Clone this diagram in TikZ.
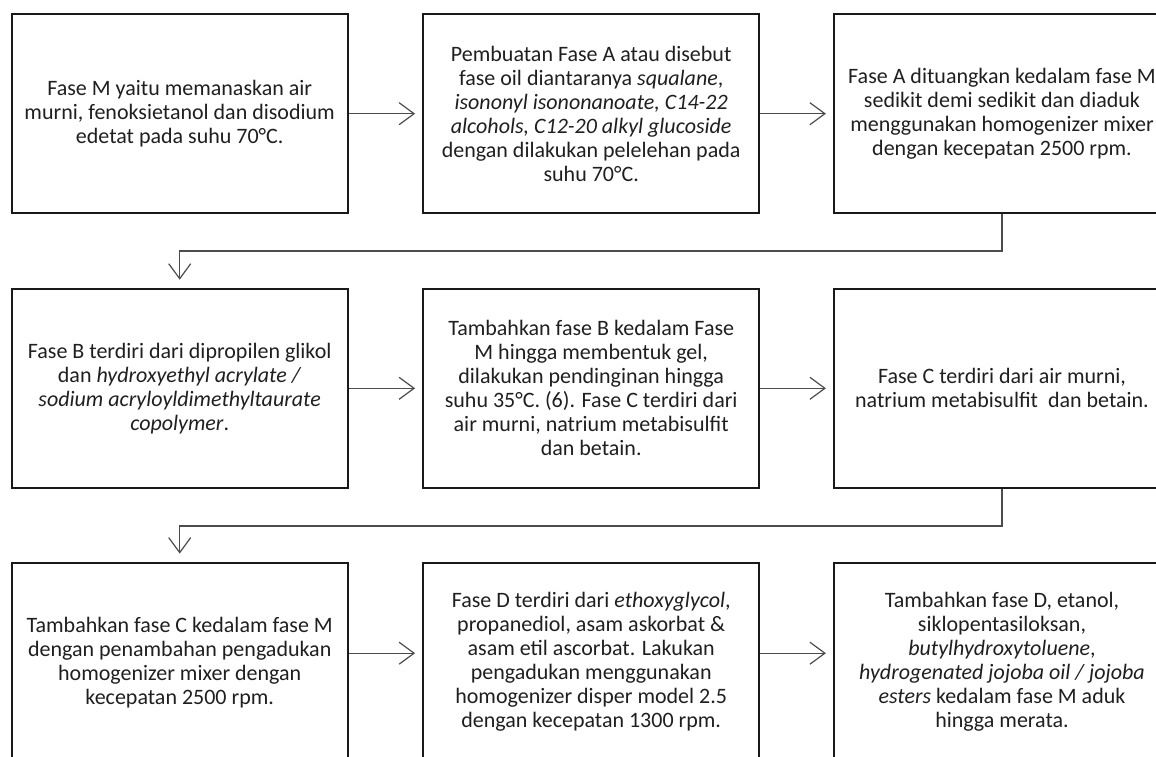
\documentclass[tikz,border=0pt]{standalone}
\usepackage{fontspec}
\setmainfont{Carlito}
\usetikzlibrary{arrows.meta}
\begin{document}
\begin{tikzpicture}[x=1pt,y=-1pt,
  box/.style={draw=black!90,line width=2.2pt,minimum width=336pt,minimum height=199pt,inner sep=0pt,
    align=center,text=black!88,font=\fontsize{22}{24}\selectfont},
  conn/.style={draw=black!70,line width=1.2pt,-{Straight Barb[length=15pt,width=22pt,line width=1.2pt]}}]
\useasboundingbox (0,0) rectangle (1156,756);
% row 1
\node[box] (b1) at (179.7,113.7) {Fase M yaitu memanaskan air\\murni, fenoksietanol dan disodium\\edetat pada suhu 70°C.};
\node[box] (b2) at (591.2,113.7) {Pembuatan Fase A atau disebut\\fase oil diantaranya \textit{squalane},\\\textit{isononyl isononanoate, C14-22}\\\textit{alcohols, C12-20 alkyl glucoside}\\dengan dilakukan pelelehan pada\\suhu 70°C.};
\node[box] (b3) at (1002,113.7) {Fase A dituangkan kedalam fase M\\sedikit demi sedikit dan diaduk\\menggunakan homogenizer mixer\\dengan kecepatan 2500 rpm.};
% row 2
\node[box] (b4) at (179.7,388.3) {Fase B terdiri dari dipropilen glikol\\dan \textit{hydroxyethyl acrylate /}\\\textit{sodium acryloyldimethyltaurate}\\\textit{copolymer}.};
\node[box] (b5) at (591.2,388.3) {Tambahkan fase B kedalam Fase\\M hingga membentuk gel,\\dilakukan pendinginan hingga\\suhu 35°C. (6). Fase C terdiri dari\\air murni, natrium metabisulfit\\dan betain.};
\node[box] (b6) at (1002,388.3) {Fase C terdiri dari air murni,\\natrium metabisulfit\ \ dan betain.};
% row 3
\node[box] (b7) at (179.7,662.2) {Tambahkan fase C kedalam fase M\\dengan penambahan pengadukan\\homogenizer mixer dengan\\kecepatan 2500 rpm.};
\node[box] (b8) at (591.2,662.2) {Fase D terdiri dari \textit{ethoxyglycol},\\propanediol, asam askorbat \&\\asam etil ascorbat. Lakukan\\pengadukan menggunakan\\homogenizer disper model 2.5\\dengan kecepatan 1300 rpm.};
\node[box] (b9) at (1002,662.2) {Tambahkan fase D, etanol,\\siklopentasiloksan,\\\textit{butylhydroxytoluene},\\\textit{hydrogenated jojoba oil / jojoba}\\\textit{esters} kedalam fase M aduk\\hingga merata.};
% connectors
\coordinate (k1) at (1002,251);
\coordinate (k2) at (179.7,251);
\coordinate (k3) at (1002,526);
\coordinate (k4) at (179.7,526);
\draw[conn] (b1.east) -- ([xshift=-7pt]b2.west);
\draw[conn] (b2.east) -- ([xshift=-7pt]b3.west);
\draw[conn] (b3.south) -- (k1) -- (k2) -- ([yshift=8pt]b4.north);
\draw[conn] (b4.east) -- ([xshift=-7pt]b5.west);
\draw[conn] (b5.east) -- ([xshift=-7pt]b6.west);
\draw[conn] (b6.south) -- (k3) -- (k4) -- ([yshift=8pt]b7.north);
\draw[conn] ([yshift=9pt]b7.east) -- ([xshift=-7pt,yshift=9pt]b8.west);
\draw[conn] ([yshift=9pt]b8.east) -- ([xshift=-7pt,yshift=9pt]b9.west);
\end{tikzpicture}
\end{document}
